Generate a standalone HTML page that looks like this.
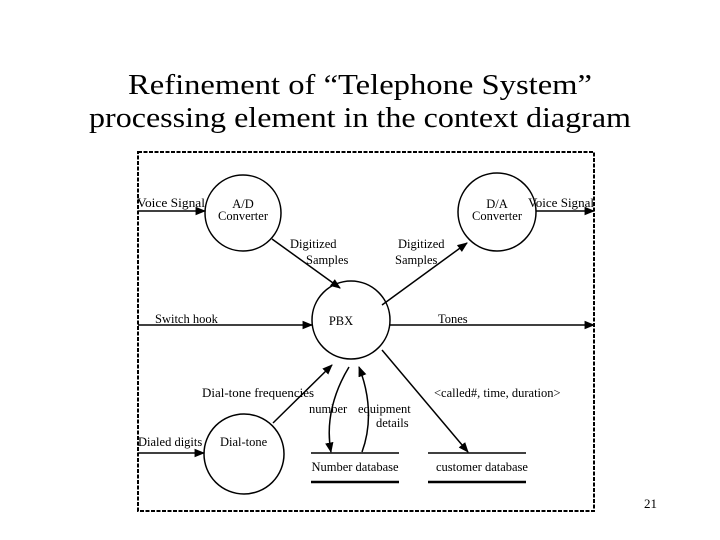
<!DOCTYPE html>
<html><head><meta charset="utf-8"><style>
html,body{margin:0;padding:0;background:#fff;}
svg{display:block;}
text{font-family:"Liberation Serif",serif;fill:#000;}
</style></head><body>
<svg width="720" height="540" viewBox="0 0 720 540" xmlns="http://www.w3.org/2000/svg">
<defs>
<marker id="a" viewBox="0 0 10 10" refX="9" refY="5" markerWidth="7" markerHeight="7" orient="auto"><path d="M0,1 L10,5 L0,9 z" fill="#000"/></marker>
</defs>
<text x="360" y="94" font-size="29" text-anchor="middle" textLength="464" lengthAdjust="spacingAndGlyphs">Refinement of “Telephone System”</text>
<text x="360" y="127" font-size="29" text-anchor="middle" textLength="542" lengthAdjust="spacingAndGlyphs">processing element in the context diagram</text>
<rect x="138" y="152" width="456" height="359" fill="none" stroke="#000" stroke-width="2" stroke-dasharray="4,1.5"/>
<g fill="none" stroke="#000" stroke-width="1.5">
<circle cx="243" cy="213" r="38"/>
<circle cx="497" cy="212" r="39"/>
<circle cx="351" cy="320" r="39"/>
<circle cx="244" cy="454" r="40"/>
<line x1="311" y1="453" x2="399" y2="453"/>
<line x1="311" y1="482" x2="399" y2="482" stroke-width="2.5"/>
<line x1="428" y1="453" x2="526" y2="453"/>
<line x1="428" y1="482" x2="526" y2="482" stroke-width="2.5"/>
<line x1="138" y1="211" x2="205" y2="211" marker-end="url(#a)"/>
<line x1="536" y1="211" x2="594" y2="211" marker-end="url(#a)"/>
<line x1="138" y1="325" x2="312" y2="325" marker-end="url(#a)"/>
<line x1="390" y1="325" x2="594" y2="325" marker-end="url(#a)"/>
<line x1="272" y1="239" x2="340" y2="288" marker-end="url(#a)"/>
<line x1="382" y1="305" x2="467" y2="243" marker-end="url(#a)"/>
<line x1="273" y1="423" x2="332" y2="365" marker-end="url(#a)"/>
<line x1="138" y1="453" x2="204" y2="453" marker-end="url(#a)"/>
<line x1="382" y1="350" x2="468" y2="452" marker-end="url(#a)"/>
<path d="M349,367 C335,390 325,420 331,452" marker-end="url(#a)"/>
<path d="M362,452 C372,425 370,395 359,367" marker-end="url(#a)"/>
</g>
<g font-size="12.5">
<text x="137" y="207" textLength="68" lengthAdjust="spacingAndGlyphs">Voice Signal</text>
<text x="243" y="208" text-anchor="middle">A/D</text>
<text x="243" y="220" text-anchor="middle">Converter</text>
<text x="497" y="208" text-anchor="middle">D/A</text>
<text x="497" y="220" text-anchor="middle">Converter</text>
<text x="528" y="207" textLength="66" lengthAdjust="spacingAndGlyphs">Voice Signal</text>
<text x="290" y="248">Digitized</text>
<text x="306" y="264">Samples</text>
<text x="398" y="248">Digitized</text>
<text x="395" y="264">Samples</text>
<text x="155" y="323">Switch hook</text>
<text x="341" y="325" text-anchor="middle">PBX</text>
<text x="438" y="323">Tones</text>
<text x="202" y="397" textLength="112" lengthAdjust="spacingAndGlyphs">Dial-tone frequencies</text>
<text x="434" y="397">&lt;called#, time, duration&gt;</text>
<text x="309" y="413">number</text>
<text x="358" y="413">equipment</text>
<text x="376" y="427">details</text>
<text x="138" y="446">Dialed digits</text>
<text x="220" y="446">Dial-tone</text>
<text x="355" y="471" text-anchor="middle">Number database</text>
<text x="482" y="471" text-anchor="middle">customer database</text>
</g>
<text x="644" y="508" font-size="13">21</text>
</svg>
</body></html>
